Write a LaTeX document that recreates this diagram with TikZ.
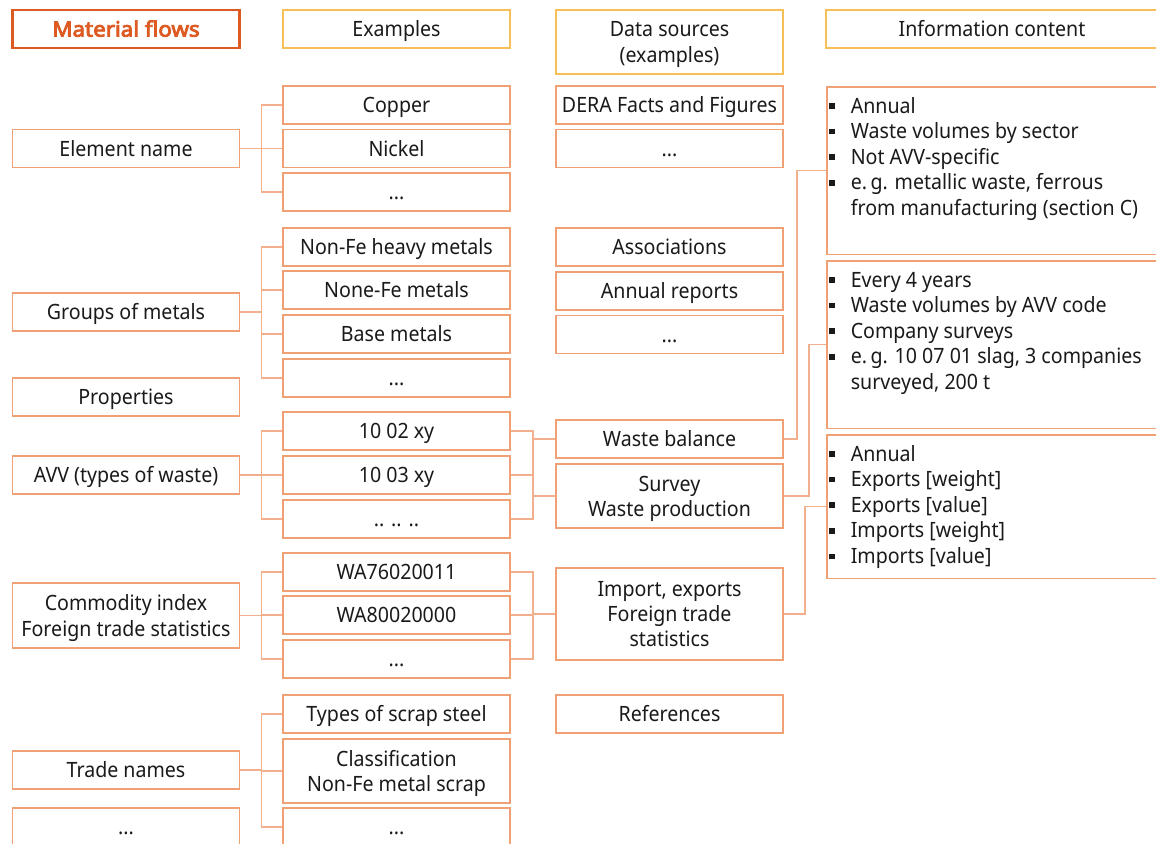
\documentclass[tikz,border=0pt]{standalone}
\usepackage{fontspec}
\setmainfont{Noto Sans}[FakeStretch=0.93]
\newfontfamily\flowfont{Noto Sans}[FakeStretch=1.06, FakeBold=4]
\usepackage{tikz}
\usetikzlibrary{positioning, calc}
\definecolor{mfdark}{HTML}{DD5A22}
\definecolor{mfbox}{HTML}{EFA075}
\definecolor{mflink}{HTML}{F2B08C}
\definecolor{mfhead}{HTML}{F6BF58}
\definecolor{mftext}{HTML}{1A1A1A}
\newcommand{\blt}{\rule[2.4pt]{3.2pt}{3.2pt}}

\begin{document}
\begin{tikzpicture}[x=0.02cm, y=-0.02cm, font=\fontsize{12}{14.3}\selectfont, text=mftext,
    base/.style={draw=mfbox, line width=0.85pt, minimum width=4.55cm, inner sep=0pt, align=center, text depth=0pt},
    box/.style={base, minimum height=0.76cm, text height=8.6pt},
    tall/.style={base, minimum height=1.28cm},
    headbox/.style={draw=mfhead, line width=1.2pt},
    flowhead/.style={box, draw=mfdark, line width=1.5pt, text=mfdark, font=\fontsize{12}{14.3}\flowfont},
    link/.style={draw=mflink, line width=0.85pt},
    infobox/.style={draw=mfbox, line width=0.85pt, minimum width=7cm, anchor=north west, inner sep=0pt},
    infolist/.style={anchor=base west, inner sep=0pt, align=left, font=\fontsize{12}{14.6}\selectfont}]
  \useasboundingbox (0,0) rectangle (1156,843);
  \clip (0,0) rectangle (1156,843);

  % headers
  \node[flowhead] (flows) at (126,29) {Material flows};
  \node[box, headbox] (examples) at (396.5,29) {Examples};
  \node[tall, headbox] (sources) at (669.5,42) {Data sources\\(examples)};
  \node[box, headbox, minimum width=6.64cm] (infohead) at (992,29) {Information content};

  % material flows
  \node[box] (elem) at (126,148.5) {Element name};
  \node[box] (groups) at (126,312) {Groups of metals};
  \node[box] (props) at (126,397) {Properties};
  \node[box] (avv) at (126,475) {AVV (types of waste)};
  \node[tall, minimum height=1.3cm] (comm) at (126,615.5) {Commodity index\\Foreign trade statistics};
  \node[box] (trade) at (126,770) {Trade names};
  \node[box] (fdots) at (126,827) {...};

  % examples
  \node[box] (copper) at (396.5,105) {Copper};
  \node[box] (nickel) at (396.5,148.5) {Nickel};
  \node[box] (edots) at (396.5,192) {...};
  \node[box] (nfheavy) at (396.5,247) {Non-Fe heavy metals};
  \node[box] (nfmet) at (396.5,290) {None-Fe metals};
  \node[box] (basemet) at (396.5,334) {Base metals};
  \node[box] (gdots) at (396.5,378) {...};
  \node[box] (avva) at (396.5,431) {10 02 xy};
  \node[box] (avvb) at (396.5,475) {10 03 xy};
  \node[box] (avvdots) at (396.5,519) {.. .. ..};
  \node[box] (waa) at (396.5,572) {WA76020011};
  \node[box] (wab) at (396.5,615) {WA80020000};
  \node[box] (wadots) at (396.5,659) {...};
  \node[box] (scrap) at (396.5,714) {Types of scrap steel};
  \node[tall] (classif) at (396.5,771) {Classification\\Non-Fe metal scrap};
  \node[box] (tdots) at (396.5,827) {...};

  % data sources
  \node[box] (dera) at (669.5,105) {DERA Facts and Figures};
  \node[box] (ddots) at (669.5,148.5) {...};
  \node[box] (assoc) at (669.5,247) {Associations};
  \node[box] (annual) at (669.5,291) {Annual reports};
  \node[box] (adots) at (669.5,334.5) {...};
  \node[box] (wbal) at (669.5,439) {Waste balance};
  \node[tall] (survey) at (669.5,496) {Survey\\Waste production};
  \node[tall, minimum height=1.84cm] (impexp) at (669.5,614) {Import, exports\\Foreign trade\\statistics};
  \node[box] (refs) at (669.5,714) {References};

  % information content
  \node[infobox, minimum height=3.36cm] (infoa) at (826,86) {};
  \node[infobox, minimum height=3.36cm] (infob) at (826,260) {};
  \node[infobox, minimum height=2.88cm] (infoc) at (826,434) {};
  \node[infolist] (lista) at (829,113) {\begin{tabular}[t]{@{}l@{\hspace{9pt}}l@{}}
    \blt & Annual\\
    \blt & Waste volumes by sector\\
    \blt & Not AVV-specific\\
    \blt & e.\,g. metallic waste, ferrous\\
         & from manufacturing (section C)
  \end{tabular}};
  \node[infolist] (listb) at (829,287) {\begin{tabular}[t]{@{}l@{\hspace{9pt}}l@{}}
    \blt & Every 4 years\\
    \blt & Waste volumes by AVV code\\
    \blt & Company surveys\\
    \blt & e.\,g. 10 07 01 slag, 3 companies\\
         & surveyed, 200 t
  \end{tabular}};
  \node[infolist] (listc) at (829,461) {\begin{tabular}[t]{@{}l@{\hspace{9pt}}l@{}}
    \blt & Annual\\
    \blt & Exports [weight]\\
    \blt & Exports [value]\\
    \blt & Imports [weight]\\
    \blt & Imports [value]
  \end{tabular}};

  % brackets to the examples
  \foreach \c in {copper,nickel,edots}
    \draw[link] (elem.east) -- ++(21,0) |- (\c.west);
  \foreach \c in {nfheavy,nfmet,basemet,gdots}
    \draw[link] (groups.east) -- ++(21,0) |- (\c.west);
  \foreach \c in {avva,avvb,avvdots}
    \draw[link] (avv.east) -- ++(21,0) |- (\c.west);
  \foreach \c in {waa,wab,wadots}
    \draw[link] (comm.east) -- ++(21,0) |- (\c.west);
  \foreach \c in {scrap,classif,tdots}
    \draw[link] (trade.east) -- ++(21,0) |- (\c.west);

  % examples to data sources
  \foreach \s in {avva,avvb,avvdots}
    \foreach \t in {wbal,survey}
      \draw[link] (\s.east) -- ++(22,0) |- (\t.west);
  \foreach \s in {waa,wab,wadots}
    \draw[link] (\s.east) -- ++(22,0) |- (impexp.west);

  % data sources to information content
  \draw[link] (wbal.east) -- ++(13,0) |- (infoa.west);
  \draw[link] (survey.east) -- ++(25,0) |- (infob.west);
  \draw[link] (impexp.east) -- ++(21,0) |- (infoc.west);
\end{tikzpicture}
\end{document}
